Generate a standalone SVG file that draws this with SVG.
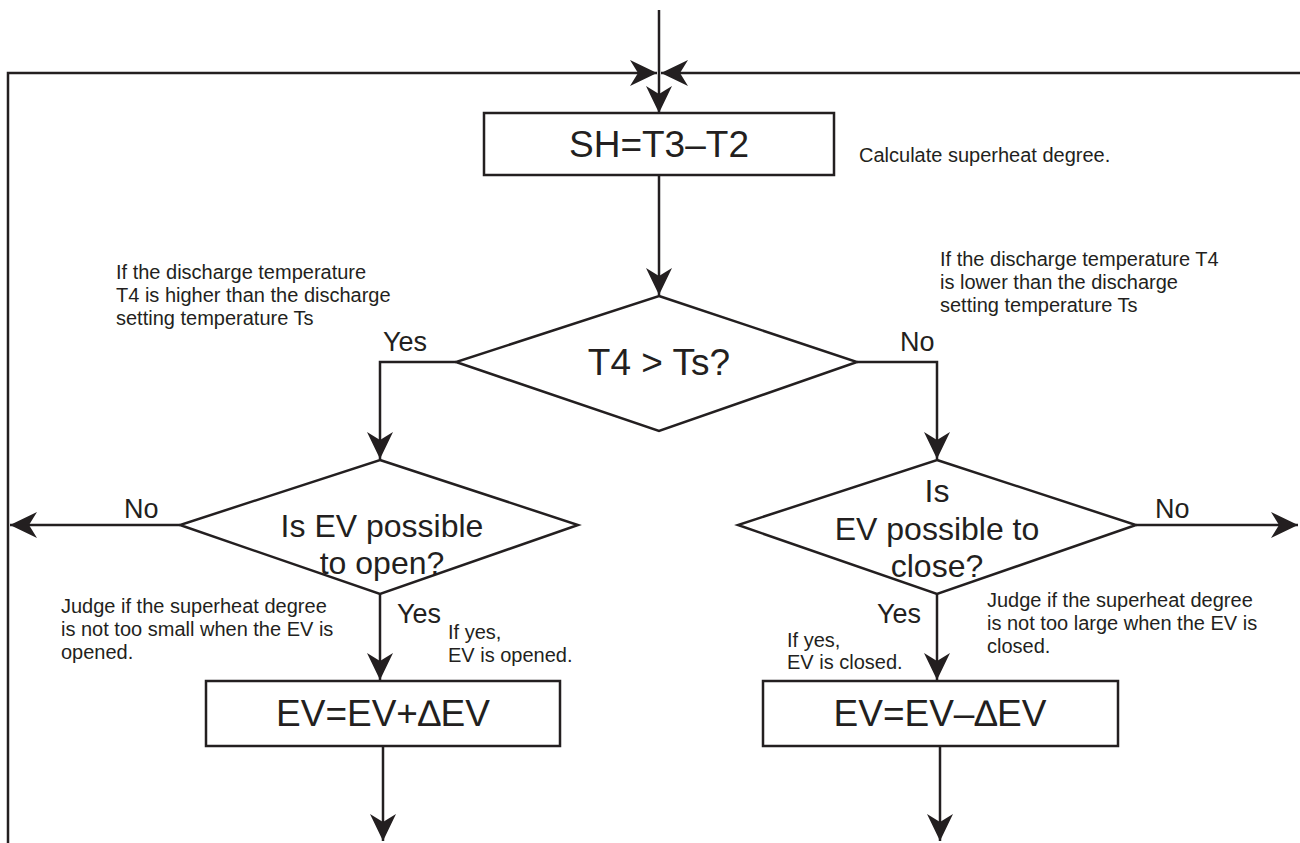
<svg xmlns="http://www.w3.org/2000/svg" width="1300" height="843" viewBox="0 0 1300 843">
<style>
.ln{fill:none;stroke:#231f20;stroke-width:2.5}
.sh{fill:#fff;stroke:#231f20;stroke-width:2.5}
.big{font-family:"Liberation Sans",Arial,sans-serif;font-size:37px;fill:#231f20;text-anchor:middle}
.q{font-family:"Liberation Sans",Arial,sans-serif;font-size:32px;fill:#231f20;text-anchor:middle}
.lb{font-family:"Liberation Sans",Arial,sans-serif;font-size:27px;fill:#231f20}
.note{font-family:"Liberation Sans",Arial,sans-serif;font-size:20px;fill:#231f20}
</style>
<defs>
<marker id="ah" markerUnits="userSpaceOnUse" viewBox="-28 -14 30 28" refX="0" refY="0" markerWidth="30" markerHeight="28" orient="auto">
<path d="M0,0 L-27,-13 L-19,0 L-27,13 Z" fill="#231f20"/>
</marker>
</defs>
<g id="connectors">
<line class="ln" x1="659" y1="10" x2="659" y2="113" marker-end="url(#ah)"/>
<polyline class="ln" points="8,843 8,73 657,73" marker-end="url(#ah)"/>
<line class="ln" x1="1300" y1="73" x2="661" y2="73" marker-end="url(#ah)"/>
<line class="ln" x1="659" y1="175" x2="659" y2="295" marker-end="url(#ah)"/>
<polyline class="ln" points="456,362 380,362 380,459" marker-end="url(#ah)"/>
<polyline class="ln" points="857,362 937,362 937,459" marker-end="url(#ah)"/>
<line class="ln" x1="180" y1="525" x2="10" y2="525" marker-end="url(#ah)"/>
<line class="ln" x1="1136" y1="525" x2="1298" y2="525" marker-end="url(#ah)"/>
<line class="ln" x1="380" y1="594" x2="380" y2="680" marker-end="url(#ah)"/>
<line class="ln" x1="937" y1="594" x2="937" y2="680" marker-end="url(#ah)"/>
<line class="ln" x1="383" y1="746" x2="383" y2="841" marker-end="url(#ah)"/>
<line class="ln" x1="940" y1="746" x2="940" y2="841" marker-end="url(#ah)"/>
<text class="lb" x="383" y="351">Yes</text>
<text class="lb" x="900" y="351">No</text>
<text class="lb" x="124" y="518">No</text>
<text class="lb" x="1155" y="518">No</text>
<text class="lb" x="397" y="623">Yes</text>
<text class="lb" x="877" y="623">Yes</text>
</g>
<g id="n-sh">
<rect class="sh" x="484" y="113" width="350" height="62"/>
<text class="big" x="659" y="157">SH=T3–T2</text>
</g>
<g id="n-calc-note">
<text class="note" x="859" y="162">Calculate superheat degree.</text>
</g>
<g id="n-t4ts">
<polygon class="sh" points="659,296 857,362 659,431 456,362"/>
<text class="big" x="659" y="375">T4 &gt; Ts?</text>
</g>
<g id="n-note-higher">
<text class="note" x="116" y="279">If the discharge temperature</text>
<text class="note" x="116" y="302">T4 is higher than the discharge</text>
<text class="note" x="116" y="325">setting temperature Ts</text>
</g>
<g id="n-note-lower">
<text class="note" x="940" y="266">If the discharge temperature T4</text>
<text class="note" x="940" y="289">is lower than the discharge</text>
<text class="note" x="940" y="312">setting temperature Ts</text>
</g>
<g id="n-open">
<polygon class="sh" points="380,460 578,525 380,594 180,525"/>
<text class="q" x="382" y="537">Is EV possible</text>
<text class="q" x="382" y="574">to open?</text>
</g>
<g id="n-close">
<polygon class="sh" points="937,460 1136,525 937,594 738,525"/>
<text class="q" x="937" y="502">Is</text>
<text class="q" x="937" y="540">EV possible to</text>
<text class="q" x="937" y="577">close?</text>
</g>
<g id="n-note-small">
<text class="note" x="61" y="613">Judge if the superheat degree</text>
<text class="note" x="61" y="636">is not too small when the EV is</text>
<text class="note" x="61" y="659">opened.</text>
</g>
<g id="n-note-opened">
<text class="note" x="448" y="639">If yes,</text>
<text class="note" x="448" y="662">EV is opened.</text>
</g>
<g id="n-note-large">
<text class="note" x="987" y="607">Judge if the superheat degree</text>
<text class="note" x="987" y="630">is not too large when the EV is</text>
<text class="note" x="987" y="653">closed.</text>
</g>
<g id="n-note-closed">
<text class="note" x="787" y="647">If yes,</text>
<text class="note" x="787" y="669">EV is closed.</text>
</g>
<g id="n-plus">
<rect class="sh" x="206" y="681" width="354" height="65"/>
<text class="big" x="383" y="726">EV=EV+∆EV</text>
</g>
<g id="n-minus">
<rect class="sh" x="763" y="681" width="355" height="65"/>
<text class="big" x="940" y="726">EV=EV–∆EV</text>
</g>
</svg>
